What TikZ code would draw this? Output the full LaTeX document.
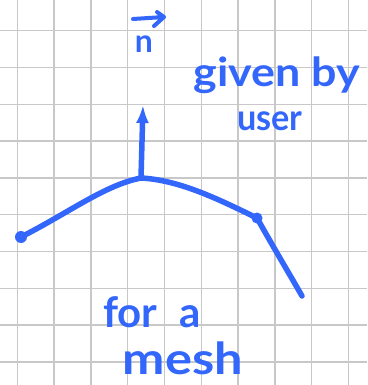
\documentclass[tikz,border=0pt]{standalone}
\usepackage{fontspec}
\setmainfont{Lato}
\usetikzlibrary{arrows.meta}
\definecolor{ink}{RGB}{51,102,250}
\definecolor{gridc}{RGB}{200,200,200}
\tikzset{
  gridline/.style={draw=gridc, line width=1.5pt},
  stroke/.style={draw=ink, line width=5.5pt, line cap=round, line join=round},
  dotnode/.style={circle, fill=ink, inner sep=0pt, minimum size=#1},
  hand/.style={text=ink, font=\fontsize{#1}{#1}\selectfont\bfseries, inner sep=0pt},
  hand/.default=40
}
\begin{document}
\begin{tikzpicture}[x=1pt,y=-1pt]
\useasboundingbox (0,0) rectangle (367,385);
\fill[white] (0,0) rectangle (367,385);
% grid
\foreach \i in {0,...,9}{
  \draw[gridline] ({17.3+36.8*\i},0) -- ({17.3+36.8*\i},385);
  \draw[gridline] (0,{30.7+36.8*\i}) -- (367,{30.7+36.8*\i});
}
% mesh vertices
\node[dotnode=6pt] (c) at (141,178) {};
\node[dotnode=12pt] (l) at (21,237) {};
\node[dotnode=11pt] (r) at (257,218) {};
\coordinate (e) at (302,296);
\coordinate (tip) at (143,105);
% mesh edges
\draw[stroke] (l.center) .. controls (70,212) and (105,185) .. (c.center);
\draw[stroke] (c.center) .. controls (180,180) and (220,200) .. (r.center);
\draw[stroke] (r.center) .. controls (275,250) and (290,275) .. (e);
% normal arrow
\draw[stroke, line cap=butt, -{Latex[length=18pt,width=13pt]}] (c.center) -- (tip);
% label n with arrow
\node[hand=32] (n) at (144,44) {n};
\coordinate (a0) at (133,19);
\coordinate (a1) at (164,17);
\draw[draw=ink, line width=4pt, line cap=round, line join=round] (a0) -- (a1) (157,12) -- (a1) -- (154,26);
% texts
\node[hand=40, xscale=1.12, anchor=base] (given) at (277,87) {given by};
\node[hand=36, xscale=0.95, anchor=base] (user) at (270,130) {user};
\node[hand=42, anchor=base] (fora) at (152,327) {for\hspace{22pt}a};
\node[hand=44, xscale=1.15, anchor=base] (mesh) at (183,374) {mesh};
\end{tikzpicture}
\end{document}
